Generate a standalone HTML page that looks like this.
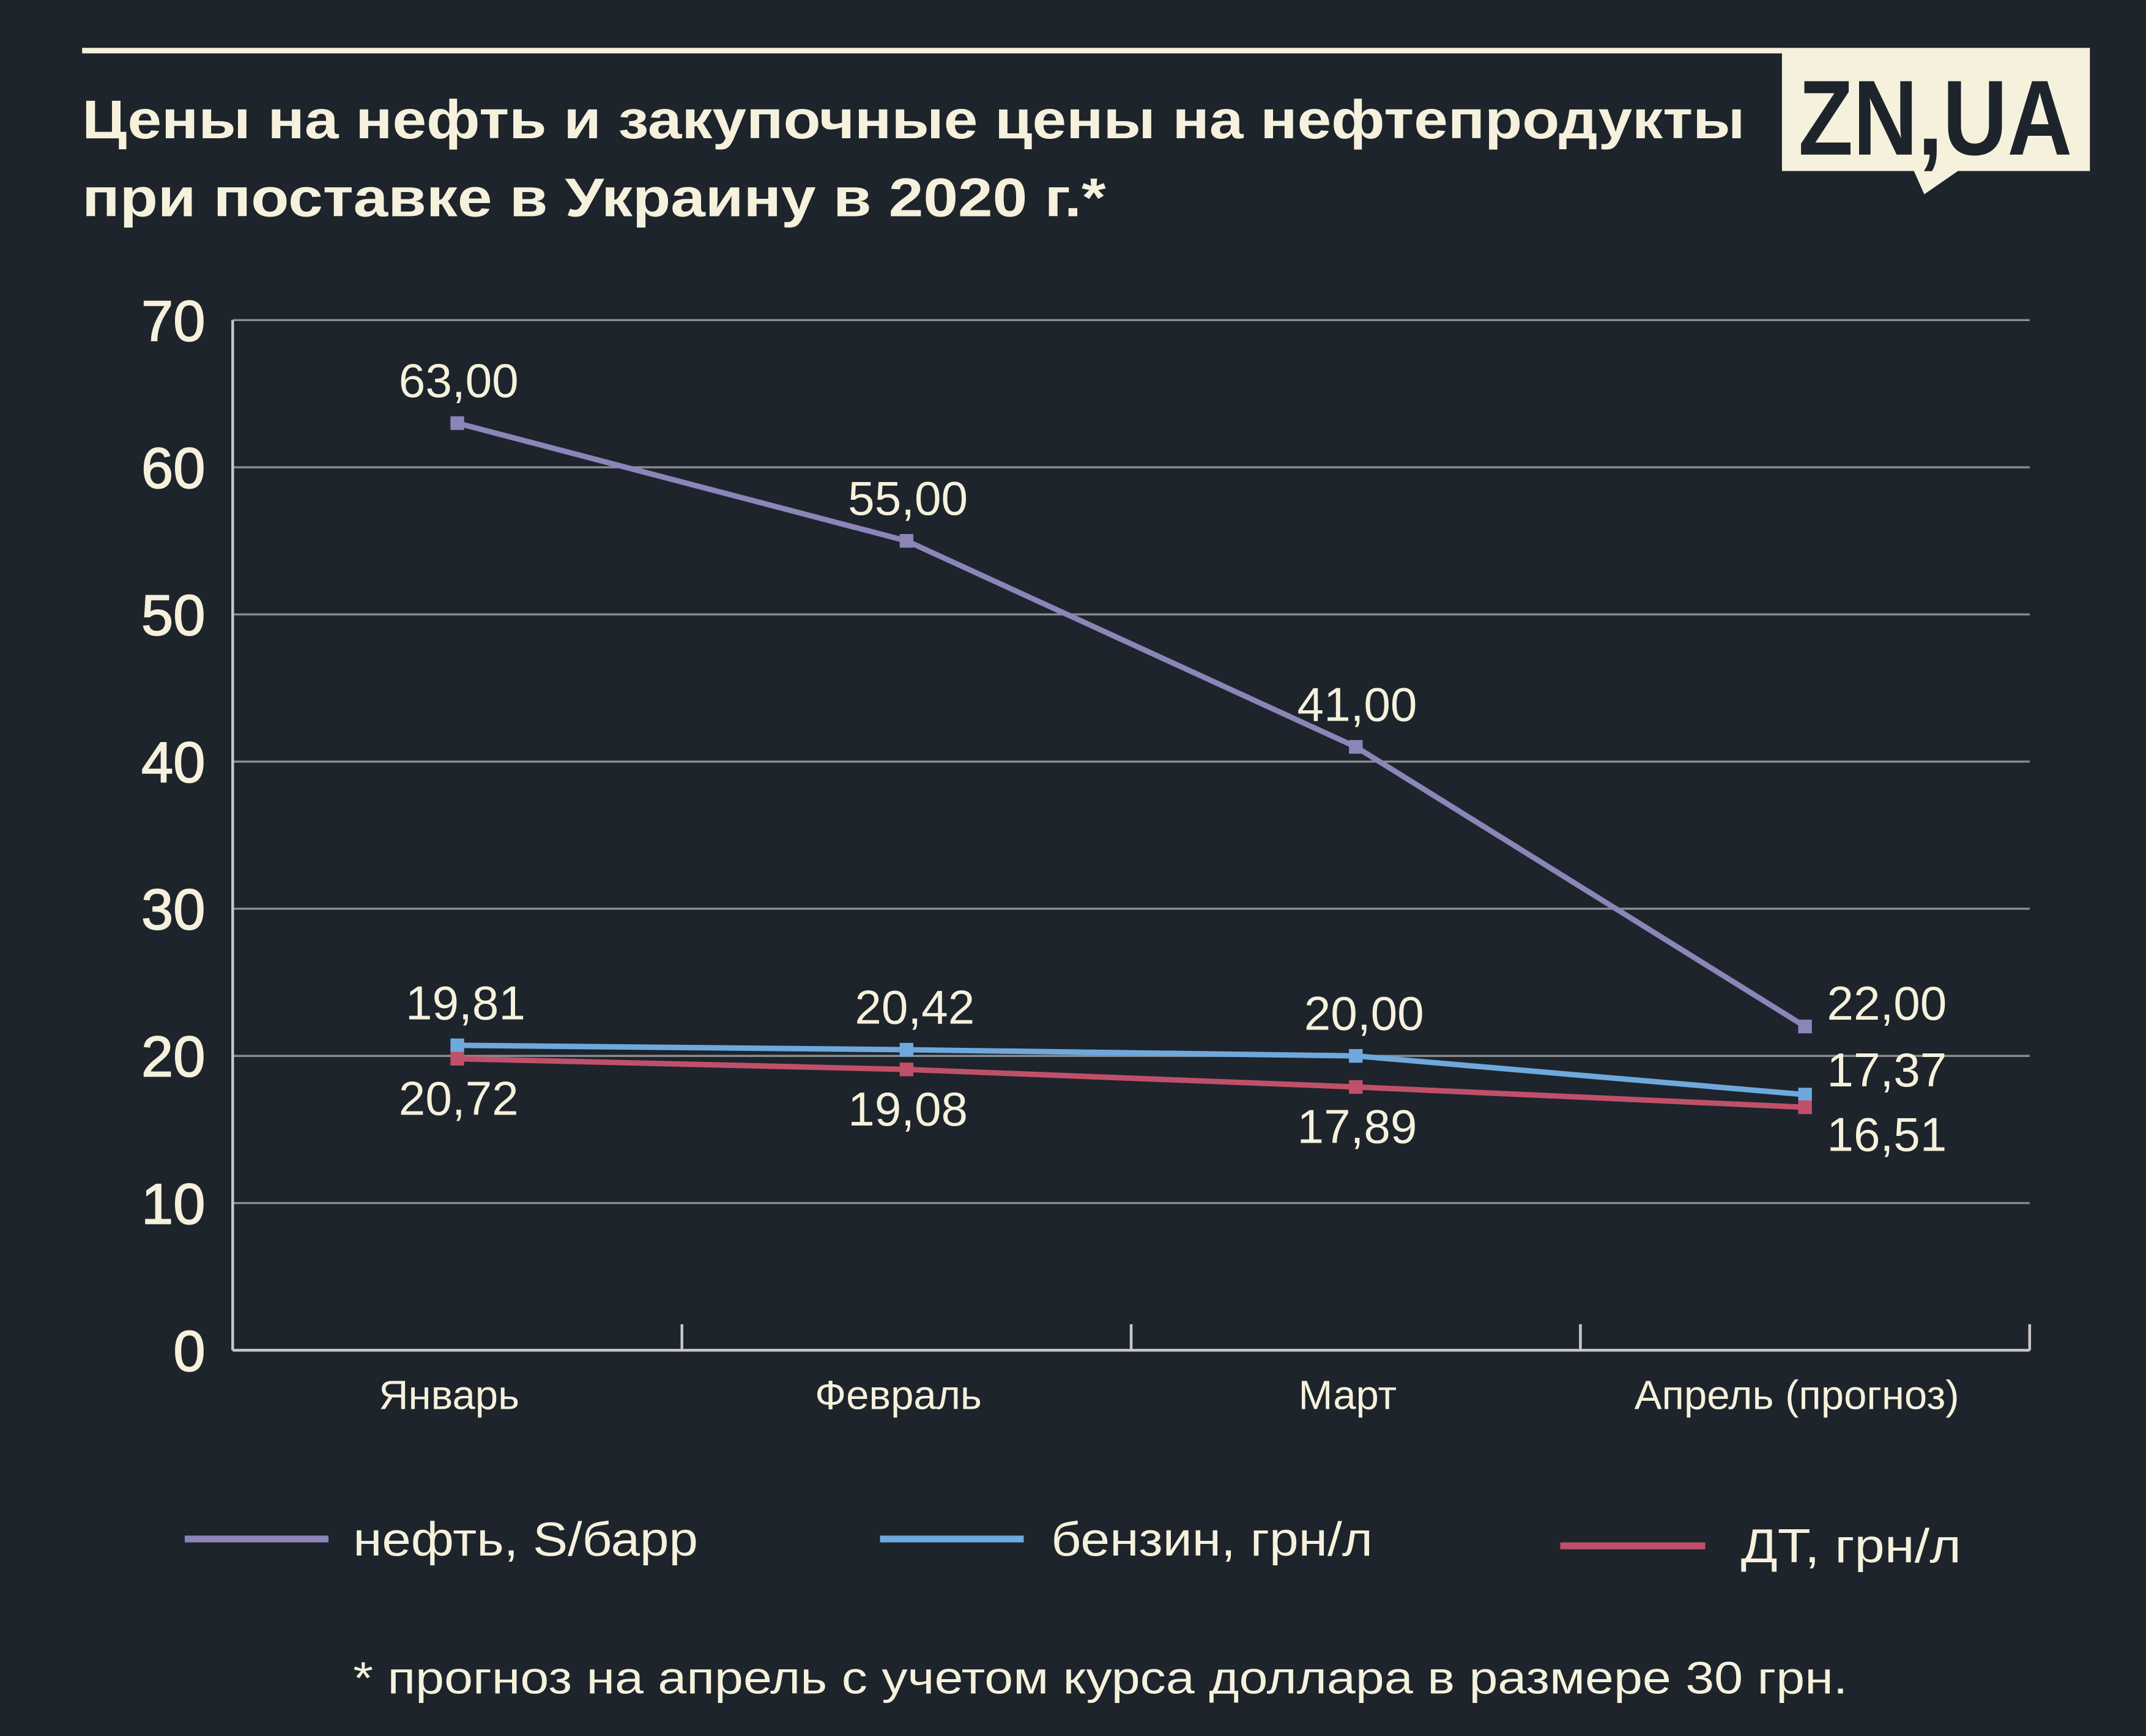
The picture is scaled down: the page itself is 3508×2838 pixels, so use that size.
<!DOCTYPE html>
<html><head><meta charset="utf-8">
<style>
html,body{margin:0;padding:0;background:#1d242b;}
svg{display:block;}
text{font-family:"Liberation Sans","DejaVu Sans",sans-serif;fill:#f6f1dc;}
</style></head>
<body>
<svg id="chart" width="3508" height="2838" viewBox="0 0 1568 1269" preserveAspectRatio="none" xmlns="http://www.w3.org/2000/svg">
<rect x="0" y="0" width="1568" height="1269" fill="#1d242b"/>
<line x1="60" y1="37" x2="1302" y2="37" stroke="#f6f1dc" stroke-width="4"/>
<text x="60" y="101" font-size="40" font-weight="bold" textLength="1215" lengthAdjust="spacingAndGlyphs">Цены на нефть и закупочные цены на нефтепродукты</text>
<text x="60" y="158" font-size="40" font-weight="bold" textLength="748" lengthAdjust="spacingAndGlyphs">при поставке в Украину в 2020 г.*</text>
<g>
<rect x="1302" y="35" width="225" height="90" fill="#f6f1dc"/>
<polygon points="1398,124 1432,124 1406,142" fill="#f6f1dc"/>
<text x="1414" y="113" font-size="78" font-weight="bold" text-anchor="middle" style="fill:#1d242b" textLength="200" lengthAdjust="spacingAndGlyphs">ZN,UA</text>
</g>
<g id="plot"></g>
<g>
<line x1="135" y1="1125" x2="240" y2="1125" stroke="#8b85b8" stroke-width="5"/>
<text x="258" y="1137" font-size="35" textLength="252" lengthAdjust="spacingAndGlyphs">нефть, S/барр</text>
<line x1="643" y1="1125" x2="748" y2="1125" stroke="#6fa8dc" stroke-width="5"/>
<text x="768" y="1137" font-size="35" textLength="235" lengthAdjust="spacingAndGlyphs">бензин, грн/л</text>
<line x1="1140" y1="1130" x2="1246" y2="1130" stroke="#c0506a" stroke-width="5"/>
<text x="1272" y="1142" font-size="35" textLength="161" lengthAdjust="spacingAndGlyphs">ДТ, грн/л</text>
</g>
<text x="258" y="1238" font-size="33" textLength="1092" lengthAdjust="spacingAndGlyphs">* прогноз на апрель с учетом курса доллара в размере 30 грн.</text>
</svg>
<script>
const categories = ["Январь","Февраль","Март","Апрель (прогноз)"];
const oilValues = [63, 55, 41, 22];
const benzinValues = [20.72, 20.42, 20.00, 17.37];
const dtValues = [19.81, 19.08, 17.89, 16.51];
const oilLabels = ["63,00","55,00","41,00","22,00"];
const benzinLabels = ["19,81","20,42","20,00","17,37"];
const dtLabels = ["20,72","19,08","17,89","16,51"];
const yTicks = [0,10,20,30,40,50,60,70];

const NS = "http://www.w3.org/2000/svg";
const plot = document.getElementById("plot");
const X0 = 170, X1 = 1483, Y0 = 987, Y1 = 234, YMAX = 70;
const bw = (X1 - X0) / categories.length;
function xs(i){ return X0 + bw * (i + 0.5); }
function ys(v){ return Y0 - (v / YMAX) * (Y0 - Y1); }
function mk(tag, attrs, parent){
  const e = document.createElementNS(NS, tag);
  for (const k in attrs) e.setAttribute(k, attrs[k]);
  (parent || plot).appendChild(e);
  return e;
}
yTicks.forEach(t => {
  if (t > 0) {
    const g = mk("line", {x1: X0, x2: X1, y1: ys(t), y2: ys(t), stroke: "#8a8f94", "stroke-width": 1.5});
    
    
  }
  const l = mk("text", {x: 150, y: ys(t) + 15, "font-size": 42, "text-anchor": "end", "stroke": "#f6f1dc", "stroke-width": 0.8});
  l.textContent = t;
  
  
});
const ya = mk("line", {x1: X0, x2: X0, y1: Y1, y2: Y0, stroke: "#c8c8c8", "stroke-width": 2});


const xa = mk("line", {x1: X0, x2: X1, y1: Y0, y2: Y0, stroke: "#c8c8c8", "stroke-width": 2});


categories.forEach((c, i) => {
  const tk = mk("line", {x1: X0 + bw*(i+1), x2: X0 + bw*(i+1), y1: Y0, y2: Y0 - 19, stroke: "#c8c8c8", "stroke-width": 2});
  
  
  const t = mk("text", {x: xs(i) - 6, y: 1030, "font-size": 30, "text-anchor": "middle"});
  t.textContent = c;
  
  
});
function series(vals, color, name){
  const pts = vals.map((v, i) => xs(i) + "," + ys(v)).join(" ");
  const pl = mk("polyline", {points: pts, fill: "none", stroke: color, "stroke-width": 4});
  
  
  vals.forEach((v, i) => {
    const m = mk("rect", {x: xs(i) - 5, y: ys(v) - 5, width: 10, height: 10, fill: color});
    
    
  });
}
series(oilValues, "#8b85b8", "oil");
series(benzinValues, "#6fa8dc", "benzin");
series(dtValues, "#c0506a", "dt");
function label(txt, x, y, anchor, name){
  const t = mk("text", {x: x, y: y, "font-size": 35, "text-anchor": anchor});
  t.textContent = txt;
  
  
}
oilValues.forEach((v, i) => {
  if (i < 3) label(oilLabels[i], xs(i) + 1, ys(v) - 19, "middle", "oil-value-label");
  else label(oilLabels[i], xs(i) + 16, ys(v) - 5, "start", "oil-value-label");
});
benzinValues.forEach((v, i) => {
  if (i < 3) label(benzinLabels[i], xs(i) + 6, ys(v) - 19, "middle", "benzin-value-label");
  else label(benzinLabels[i], xs(i) + 16, ys(v) - 6, "start", "benzin-value-label");
});
dtValues.forEach((v, i) => {
  if (i < 3) label(dtLabels[i], xs(i) + 1, ys(v) + 41, "middle", "dt-value-label");
  else label(dtLabels[i], xs(i) + 16, ys(v) + 32, "start", "dt-value-label");
});
</script>
</body></html>
